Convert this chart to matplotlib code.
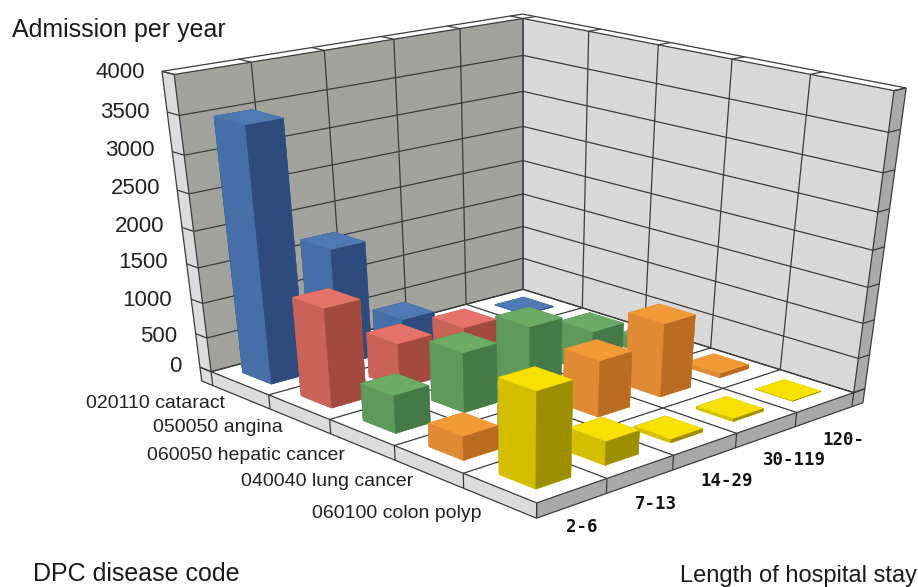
import numpy as np
import matplotlib
matplotlib.use("Agg")
import matplotlib.pyplot as plt
from mpl_toolkits.mplot3d.art3d import Poly3DCollection, Line3DCollection

# Admissions per year by disease (rows) and length of stay (columns)
diseases = ['020110 cataract', '050050 angina', '060050 hepatic cancer',
            '040040 lung cancer', '060100 colon polyp']
stays = ['2-6', '7-13', '14-29', '30-119', '120-']
cataract = [3500, 1680, 420, 40, 10]
angina = [1400, 650, 620, 380, 10]
hepatic = [530, 850, 950, 620, 180]
lung = [330, 300, 800, 1050, 60]
polyp = [1300, 330, 50, 40, 5]
z_ticks = [0, 500, 1000, 1500, 2000, 2500, 3000, 3500, 4000]
z_tick_labels = [str(v) for v in z_ticks]

W, H = 918, 587
plt.rcParams['font.family'] = ['Liberation Sans', 'DejaVu Sans']

# Camera: calibrated from the box edges (data coordinate -> pixel position)
cam_wall_left = [(174, 75), (179, 115), (185, 155), (188, 193), (193, 230), (198, 267), (203, 303), (207, 338), (212, 372)]
cam_wall_back = [(523, 18), (523, 55), (523, 90), (523, 127), (523, 160), (523, 195), (523, 227), (523, 258), (523, 290)]
cam_wall_right = [(893, 90), (888, 132), (883, 172), (878, 212), (873, 250), (867, 287), (863, 322), (858, 358), (853, 392)]
cam_top_left = [(252, 63), (323, 52), (393, 40), (460, 28)]
cam_top_right = [(589, 32), (659, 45), (733, 60), (812, 75)]
cam_front_right = [(537, 502), (607, 478), (673, 457), (737, 435), (797, 413)]
cam_front_left = [(268, 395), (330, 418), (395, 446), (463, 475)]

anchors = []
for i, (u, v) in enumerate(cam_wall_left):
    anchors.append((0, 0, 4000 - 500*i, u, H - v))
for i, (u, v) in enumerate(cam_wall_back):
    anchors.append((0, 5, 4000 - 500*i, u, H - v))
for i, (u, v) in enumerate(cam_wall_right):
    anchors.append((5, 5, 4000 - 500*i, u, H - v))
for i, (u, v) in enumerate(cam_top_left):
    anchors.append((0, i + 1, 4000, u, H - v))
for i, (u, v) in enumerate(cam_top_right):
    anchors.append((i + 1, 5, 4000, u, H - v))
for i, (u, v) in enumerate(cam_front_right):
    anchors.append((5, i, 0, u, H - v))
for i, (u, v) in enumerate(cam_front_left):
    anchors.append((i + 1, 0, 0, u, H - v))
anchors = np.array(anchors, float)


def solve_camera(a):
    """Direct linear transform, refined by re-weighting with the depth."""
    X = np.c_[a[:, 0], a[:, 1], a[:, 2] / 800, np.ones(len(a))]
    u, v = a[:, 3] / 500, a[:, 4] / 500
    wt = np.ones(len(a))
    for _ in range(8):
        A = np.vstack([
            np.c_[X * wt[:, None], np.zeros_like(X), -X * (u * wt)[:, None]],
            np.c_[np.zeros_like(X), X * wt[:, None], -X * (v * wt)[:, None]],
        ])
        p = np.linalg.svd(A)[2][-1].reshape(3, 4)
        depth = X @ p[2]
        if depth.mean() < 0:
            p = -p
            depth = -depth
        wt = depth.mean() / depth
    p = p * np.array([1, 1, 1 / 800, 1])
    p[0] *= 500
    p[1] *= 500
    return p


P = solve_camera(anchors)

fig = plt.figure(figsize=(W / 100, H / 100), dpi=100, facecolor='white')
ax = fig.add_axes([0, 0, 1, W / H], projection='3d', computed_zorder=False)
ax.set_axis_off()
ax.patch.set_visible(False)
ax.apply_aspect()
o = ax.transData.transform((0, 0))
gain = ax.transData.transform((1, 1)) - o
scale_w = np.abs(P[2] @ np.array([2.5, 2.5, 2000, 1]))
wrow = P[2] / scale_w
M = np.vstack([
    (P[0] / scale_w - o[0] * wrow) / gain[0],
    (P[1] / scale_w - o[1] * wrow) / gain[1],
    wrow - np.array([0, 0, 0, 0.5]),
    wrow,
])
ax.get_proj = lambda: M

t = 0.2       # wall thickness in category cells
d = 210       # floor slab depth in value units
top = 4000
x0, x1, y0, y1 = 0, 5, 0, 5
C_LEFT, C_RIGHT = '#a1a39c', '#d8d8d8'
C_EDGE_L, C_EDGE_D = '#dcdcdc', '#a9a9a9'
LINE = '#3c3c3c'

faces = [
    # inner walls
    ([(x0, y0, 0), (x0, y1, 0), (x0, y1, top), (x0, y0, top)], C_LEFT),
    ([(x0, y1, 0), (x1, y1, 0), (x1, y1, top), (x0, y1, top)], C_RIGHT),
    # wall tops
    ([(x0 - t, y0, top), (x0, y0, top), (x0, y1, top), (x1, y1, top), (x1, y1 + t, top), (x0 - t, y1 + t, top)], 'white'),
    # wall end faces
    ([(x0 - t, y0, 0), (x0, y0, 0), (x0, y0, top), (x0 - t, y0, top)], C_EDGE_L),
    ([(x1, y1, 0), (x1, y1 + t, 0), (x1, y1 + t, top), (x1, y1, top)], C_EDGE_D),
    # floor and its slab
    ([(x0, y0, 0), (x1, y0, 0), (x1, y1, 0), (x0, y1, 0)], 'white'),
    ([(x0 - t, y0, -d), (x1, y0, -d), (x1, y0, 0), (x0 - t, y0, 0)], C_EDGE_L),
    ([(x1, y0, -d), (x1, y1 + t, -d), (x1, y1 + t, 0), (x1, y0, 0)], C_EDGE_D),
]
for i, (poly, col) in enumerate(faces):
    ax.add_collection3d(Poly3DCollection([poly], facecolors=col, edgecolors='none', zorder=1 + i * 0.01))

segments = []
for v in z_ticks:
    segments += [[(x0 - t, y0, v), (x0, y0, v)], [(x0, y0, v), (x0, y1, v)],
                 [(x0, y1, v), (x1, y1, v)], [(x1, y1, v), (x1, y1 + t, v)]]
for k in range(6):
    segments += [[(x0, k, 0), (x0, k, top)], [(k, y1, 0), (k, y1, top)],
                 [(x0 - t, k, top), (x0, k, top)], [(k, y1, top), (k, y1 + t, top)],
                 [(k, y0, 0), (k, y0, -d)], [(x1, k, 0), (x1, k, -d)]]
    segments += [[(k, y0, 0), (k, y1, 0)], [(x0, k, 0), (x1, k, 0)]]
segments += [[(x0 - t, y0, top), (x0 - t, y1 + t, top)], [(x0 - t, y1 + t, top), (x1, y1 + t, top)],
             [(x1, y1 + t, top), (x1, y1 + t, -d)], [(x1, y1 + t, -d), (x1, y0, -d)],
             [(x1, y0, -d), (x0 - t, y0, -d)], [(x0 - t, y0, -d), (x0 - t, y0, top)],
             [(x0 - t, y0, 0), (x0, y0, 0)], [(x1, y1, 0), (x1, y1 + t, 0)]]
ax.add_collection3d(Line3DCollection(segments, colors=LINE, linewidths=0.9, zorder=2))

# Colour of each series: top, left-hand and right-hand faces
shades = [
    ('#4f79b3', '#466fa8', '#2f4a7c'),
    ('#e6736a', '#c9635a', '#a24a40'),
    ('#6bab66', '#5f9a5c', '#457a46'),
    ('#f29a38', '#e08a34', '#b96c22'),
    ('#f8e000', '#d3bf00', '#9c8e00'),
]
series = [cataract, angina, hepatic, lung, polyp]
bar = 0.5
gap = (1 - bar) / 2
z = 3.0
for i, row in enumerate(series):
    c_top, c_left, c_right = shades[i]
    cols = [c_top, c_top, c_left, c_left, c_right, c_right]
    for j in range(4, -1, -1):
        ax.bar3d([i + gap], [j + gap], [0], [bar], [bar], [row[j]], color=cols, edgecolors=cols,
                 linewidths=0.3, shade=False, zorder=z)
        z += 0.01


def label(px, py, s, **kw):
    fig.text(px / W, 1 - py / H, s, va='center', **kw)


label(12, 30, 'Admission per year', fontsize=18, color='#1a1a1a')
label(33, 574, 'DPC disease code', fontsize=18, color='#1a1a1a')
label(680, 576, 'Length of hospital stay', fontsize=17, color='#1a1a1a')
z_label_pos = [(182, 367), (177, 336), (172, 300), (168, 263), (164, 226), (160, 189), (155, 151), (150, 112), (145, 72)]
for (px, py), s in zip(z_label_pos, z_tick_labels):
    label(px, py, s, fontsize=16, ha='right', color='#222222')
disease_pos = [(225, 404), (283, 427), (345, 455), (413, 482), (481, 513)]
for (px, py), s in zip(disease_pos, diseases):
    label(px, py, s, fontsize=14, ha='right', color='#222222')
stay_pos = [(582, 527), (656, 504), (727, 481), (794, 460), (843, 440)]
for (px, py), s in zip(stay_pos, stays):
    label(px, py, s, fontsize=12.5, ha='center', color='#111111', family=['DejaVu Sans Mono'], fontweight='bold')

fig.savefig('out.png', dpi=100)
